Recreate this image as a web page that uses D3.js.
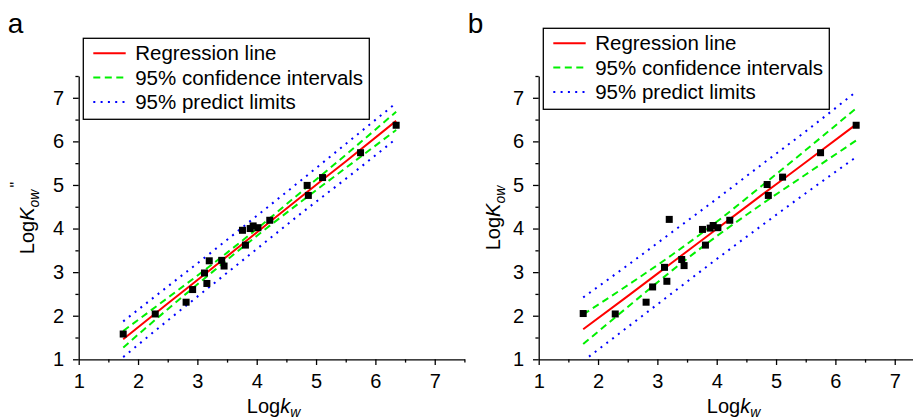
<!DOCTYPE html>
<html>
<head>
<meta charset="utf-8">
<script src="https://cdn.jsdelivr.net/npm/d3@7"></script>
<style>
body { margin: 0; background: #fff; }
text { font-family: "Liberation Sans", Arial, sans-serif; }
</style>
</head>
<body>
<svg id="chart" width="913" height="420"></svg>
<script>
// measured values (Log kw vs Log Kow)
let logKw = [1.75, 2.29, 2.81, 2.92, 3.12, 3.16, 3.20, 3.41, 3.45, 3.76, 3.81, 3.89, 3.94, 4.02, 4.22, 4.85, 4.87, 5.11, 5.75, 6.35];
let logKowA = [1.58, 2.04, 2.31, 2.60, 2.98, 2.74, 3.26, 3.27, 3.14, 3.96, 3.62, 4.00, 4.06, 4.02, 4.19, 4.99, 4.76, 5.17, 5.74, 6.37];
let logKowB = [2.05, 2.04, 2.31, 2.66, 3.11, 2.79, 4.21, 3.29, 3.15, 3.98, 3.62, 4.01, 4.07, 4.02, 4.19, 5.01, 4.76, 5.18, 5.74, 6.37];

// fit line and bands at these x positions
let bandX = [1.75, 2.5, 3.25, 4.0, 4.75, 5.5, 6.35];
let fitA = [1.46, 2.28, 3.09, 3.91, 4.73, 5.54, 6.47];
let ciUpA = [1.65, 2.41, 3.18, 3.99, 4.84, 5.69, 6.68];
let ciLoA = [1.27, 2.15, 3.00, 3.83, 4.62, 5.39, 6.26];
let piUpA = [1.87, 2.67, 3.47, 4.29, 5.11, 5.94, 6.88];
let piLoA = [1.05, 1.89, 2.71, 3.53, 4.35, 5.14, 6.06];

let fitB = [1.69, 2.45, 3.22, 3.99, 4.76, 5.52, 6.39];
let ciUpB = [2.03, 2.70, 3.40, 4.155, 4.97, 5.80, 6.76];
let ciLoB = [1.35, 2.20, 3.04, 3.825, 4.55, 5.24, 6.02];
let piUpB = [2.42, 3.16, 3.92, 4.68, 5.46, 6.23, 7.14];
let piLoB = [0.96, 1.74, 2.52, 3.30, 4.06, 4.81, 5.64];

let majorTicks = [1, 2, 3, 4, 5, 6, 7];
let minorTicks = [1.5, 2.5, 3.5, 4.5, 5.5, 6.5, 7.5];
let legendLabels = ["Regression line", "95% confidence intervals", "95% predict limits"];

let svg = d3.select("#chart");

function drawPanel(id, x0, legendTop, titleX, letter, yVals, fit, ciUp, ciLo, piUp, piLo, prime) {
    let xScale = d3.scaleLinear().domain([1, 7.5]).range([x0, x0 + 385.7]);
    let yScale = d3.scaleLinear().domain([1, 7.5]).range([359.3, 76]);

    let g = svg.append("g");

    g.append("clipPath").attr("id", "clip" + id)
        .append("rect")
        .attr("x", x0).attr("y", 76)
        .attr("width", 385.7).attr("height", 283.3);

    // axes
    let xMinor = d3.axisBottom(xScale).tickValues(minorTicks).tickSize(3.3).tickFormat("");
    let yMinor = d3.axisLeft(yScale).tickValues(minorTicks).tickSize(3.3).tickFormat("");
    let xAxis = d3.axisBottom(xScale).tickValues(majorTicks).tickSize(5.7).tickSizeOuter(0).tickPadding(9).tickFormat(d3.format("d"));
    let yAxis = d3.axisLeft(yScale).tickValues(majorTicks).tickSize(5.7).tickSizeOuter(0).tickPadding(9).tickFormat(d3.format("d"));

    g.append("g").attr("transform", "translate(0,359.3)").call(xMinor)
        .call(a => a.select(".domain").remove());
    g.append("g").attr("transform", "translate(" + x0 + ",0)").call(yMinor)
        .call(a => a.select(".domain").remove());
    g.append("g").attr("transform", "translate(0,359.3)").call(xAxis);
    g.append("g").attr("transform", "translate(" + x0 + ",0)").call(yAxis);

    g.selectAll(".tick line").attr("stroke", "#000").attr("stroke-width", 1.3);
    g.selectAll(".domain").attr("stroke", "#000").attr("stroke-width", 1.3);
    g.selectAll(".tick text")
        .style("font-family", "'Liberation Sans', Arial, sans-serif")
        .style("font-size", "20px")
        .attr("fill", "#000");

    // bands and fit line
    let line = d3.line()
        .curve(d3.curveMonotoneX)
        .x((d, i) => xScale(bandX[i]))
        .y(d => yScale(d));

    let plot = g.append("g").attr("clip-path", "url(#clip" + id + ")");

    [piUp, piLo].forEach(s => {
        plot.append("path").attr("d", line(s))
            .attr("fill", "none").attr("stroke", "#0000ff")
            .attr("stroke-width", 2).attr("stroke-dasharray", "2,5.3");
    });
    [ciUp, ciLo].forEach(s => {
        plot.append("path").attr("d", line(s))
            .attr("fill", "none").attr("stroke", "#00f000")
            .attr("stroke-width", 2).attr("stroke-dasharray", "7,4.5");
    });
    plot.append("path").attr("d", line(fit))
        .attr("fill", "none").attr("stroke", "#ff0000").attr("stroke-width", 2);

    // points
    g.selectAll(".pt")
        .data(yVals)
        .enter()
        .append("rect")
        .attr("class", "pt")
        .attr("x", (d, i) => xScale(logKw[i]) - 3.5)
        .attr("y", d => yScale(d) - 3.5)
        .attr("width", 7).attr("height", 7)
        .attr("fill", "#000");

    // legend
    let lg = g.append("g");
    lg.append("rect")
        .attr("x", x0 + 4.6).attr("y", legendTop)
        .attr("width", 286).attr("height", 81)
        .attr("fill", "#fff").attr("stroke", "#000").attr("stroke-width", 1.3);
    let styles = [
        {color: "#ff0000", dash: null},
        {color: "#00f000", dash: "7,4.5"},
        {color: "#0000ff", dash: "2,5.3"}
    ];
    legendLabels.forEach((lab, i) => {
        let yy = legendTop + 15 + i * 24.3;
        lg.append("line")
            .attr("x1", x0 + 14.6).attr("x2", x0 + 47)
            .attr("y1", yy).attr("y2", yy)
            .attr("stroke", styles[i].color).attr("stroke-width", 2)
            .attr("stroke-dasharray", styles[i].dash);
        lg.append("text")
            .attr("x", x0 + 56.5).attr("y", yy).attr("dy", "0.35em")
            .style("font-size", "20.5px")
            .text(lab);
    });

    // axis titles
    let xt = g.append("text")
        .attr("x", x0 + 385.7 / 2 + 2).attr("y", 413)
        .attr("text-anchor", "middle")
        .style("font-size", "20px");
    xt.append("tspan").text("Log");
    xt.append("tspan").style("font-style", "italic").text("k");
    xt.append("tspan").style("font-style", "italic").style("font-size", "14px").attr("dy", 4).text("w");

    let yt = g.append("text")
        .attr("transform", "translate(" + titleX + ",218) rotate(-90)")
        .attr("text-anchor", "middle")
        .style("font-size", "20px");
    yt.append("tspan").text("Log");
    yt.append("tspan").style("font-style", "italic").text("K");
    yt.append("tspan").style("font-style", "italic").style("font-size", "14px").attr("dy", 5).text("ow");
    if (prime) {
        yt.append("tspan").style("font-size", "16px").attr("dx", 2).attr("dy", -17).text("\"");
    }

    // panel letter
    g.append("text")
        .attr("x", x0 - 71).attr("y", 33)
        .style("font-size", "28px")
        .text(letter);
}

drawPanel("a", 78.7, 38.3, 34, "a", logKowA, fitA, ciUpA, ciLoA, piUpA, piLoA, true);
drawPanel("b", 538.7, 28.3, 500, "b", logKowB, fitB, ciUpB, ciLoB, piUpB, piLoB, false);
</script>
</body>
</html>
